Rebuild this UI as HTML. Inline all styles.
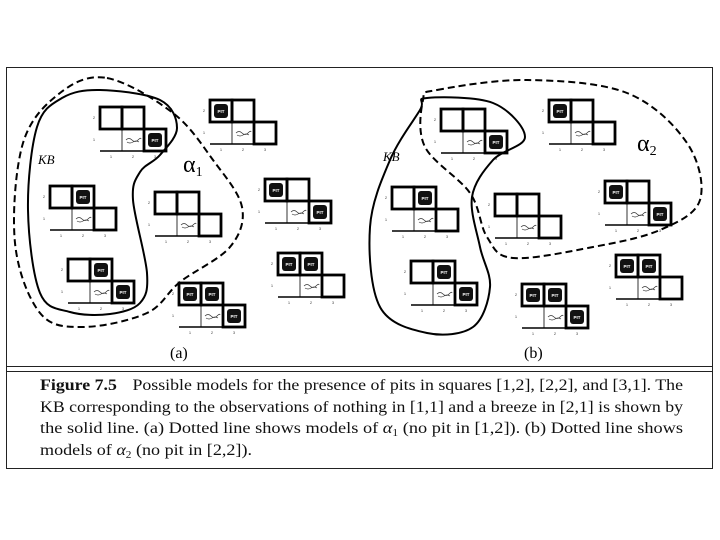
<!DOCTYPE html>
<html><head><meta charset="utf-8"><style>
body{margin:0;background:#fff;width:720px;height:540px;overflow:hidden}
svg{position:absolute;left:0;top:0}
</style></head><body>
<svg id="s" width="720" height="540" xmlns="http://www.w3.org/2000/svg">
<rect x="6.5" y="67.5" width="706" height="401" fill="none" stroke="#222" stroke-width="1"/>
<line x1="6" y1="366.5" x2="713" y2="366.5" stroke="#222" stroke-width="1"/>
<line x1="6" y1="371.5" x2="713" y2="371.5" stroke="#222" stroke-width="1"/>
<g id="g"></g>
<text x="38" y="164" font-family="Liberation Serif,serif" font-style="italic" font-size="13">KB</text>
<text x="183" y="172" font-family="Liberation Serif,serif" font-size="24">α<tspan font-size="14" dy="4">1</tspan></text>
<text x="383" y="161" font-family="Liberation Serif,serif" font-style="italic" font-size="13">KB</text>
<text x="637" y="151" font-family="Liberation Serif,serif" font-size="24">α<tspan font-size="14" dy="4">2</tspan></text>
<text x="170" y="358" font-family="Liberation Serif,serif" font-size="16">(a)</text>
<text x="524" y="358" font-family="Liberation Serif,serif" font-size="16">(b)</text>
<g font-family="Liberation Serif,serif" font-size="16" fill="#111">
<text x="40" y="390" textLength="643" lengthAdjust="spacingAndGlyphs"><tspan font-weight="bold">Figure 7.5</tspan><tspan dx="14">Possible models for the presence of pits in squares [1,2], [2,2], and [3,1]. The</tspan></text>
<text x="40" y="412" textLength="643" lengthAdjust="spacingAndGlyphs">KB corresponding to the observations of nothing in [1,1] and a breeze in [2,1] is shown by</text>
<text x="40" y="433" textLength="643" lengthAdjust="spacingAndGlyphs">the solid line. (a) Dotted line shows models of <tspan font-style="italic">α</tspan><tspan font-size="10" dy="3">1</tspan><tspan dy="-3"> (no pit in [1,2]). (b) Dotted line shows</tspan></text>
<text x="40" y="455" textLength="212" lengthAdjust="spacingAndGlyphs">models of <tspan font-style="italic">α</tspan><tspan font-size="10" dy="3">2</tspan><tspan dy="-3"> (no pit in [2,2]).</tspan></text>
</g>
</svg>
<script>
var g=document.getElementById('g'),h='';
var C=22;
function model(x,y,p12,p22,p31){
 var s='';
 s+='<line x1="'+x+'" y1="'+(y+2*C)+'" x2="'+(x+2*C)+'" y2="'+(y+2*C)+'" stroke="#000" stroke-width="1.5"/>';
 s+='<line x1="'+(x+C)+'" y1="'+(y+C)+'" x2="'+(x+C)+'" y2="'+(y+2*C)+'" stroke="#000" stroke-width="0.8"/>';
 [[x,y],[x+C,y],[x+2*C,y+C]].forEach(function(c){s+='<rect x="'+c[0]+'" y="'+c[1]+'" width="'+C+'" height="'+C+'" fill="none" stroke="#000" stroke-width="2.8"/>';});
 var bx=x+C+4,by=y+C+11;
 s+='<path d="M'+bx+' '+by+' q3 -3 6 0 t6 0 t3 -1 M'+(bx+1)+' '+(by+2)+' q3 2 6 0 t6 0" fill="none" stroke="#333" stroke-width="0.7"/>';
 function pit(cx,cy){s+='<rect x="'+(cx+4)+'" y="'+(cy+4)+'" width="'+(C-8)+'" height="'+(C-8)+'" rx="3" fill="#111"/><text x="'+(cx+C/2)+'" y="'+(cy+C/2+2)+'" font-size="4.5" fill="#fff" text-anchor="middle" font-family="Liberation Sans,sans-serif" font-weight="bold">PIT</text>';}
 if(p12)pit(x,y); if(p22)pit(x+C,y); if(p31)pit(x+2*C,y+C);
 var f=' font-size="4" fill="#444" font-family="Liberation Sans,sans-serif" text-anchor="middle"';
 s+='<text x="'+(x-6)+'" y="'+(y+C/2+1)+'"'+f+'>2</text><text x="'+(x-6)+'" y="'+(y+1.5*C+1)+'"'+f+'>1</text>';
 for(var i=0;i<3;i++)s+='<text x="'+(x+C/2+i*C)+'" y="'+(y+2*C+7)+'"'+f+'>'+(i+1)+'</text>';
 return s;
}
var M=[[100,107,0,0,1],[210,100,1,0,0],[50,186,0,1,0],[155,192,0,0,0],[265,179,1,0,1],[68,259,0,1,1],[179,283,1,1,1],[278,253,1,1,0],
[441,109,0,0,1],[549,100,1,0,0],[392,187,0,1,0],[495,194,0,0,0],[605,181,1,0,1],[411,261,0,1,1],[522,284,1,1,1],[616,255,1,1,0]];
M.forEach(function(m){h+=model(m[0],m[1],m[2],m[3],m[4]);});
function cr(P){var n=P.length,d='M'+P[0][0]+' '+P[0][1];
 for(var i=0;i<n;i++){var p0=P[(i-1+n)%n],p1=P[i],p2=P[(i+1)%n],p3=P[(i+2)%n];
 d+=' C'+(p1[0]+(p2[0]-p0[0])/6)+' '+(p1[1]+(p2[1]-p0[1])/6)+' '+(p2[0]-(p3[0]-p1[0])/6)+' '+(p2[1]-(p3[1]-p1[1])/6)+' '+p2[0]+' '+p2[1];}
 return d+'Z';}
var KBa=[[100,90],[160,100],[177,128],[160,155],[140,172],[133,200],[147,273],[140,303],[110,314],[70,312],[40,293],[28,210],[37,127],[62,98]];
var Da=[[107,78],[173,113],[213,160],[242,207],[230,247],[180,282],[147,313],[83,327],[40,313],[15,243],[23,143],[60,93]];
var KBb=[[427,98],[493,103],[525,137],[493,160],[472,197],[480,247],[490,287],[473,327],[427,333],[380,307],[370,227],[390,160],[420,110]];
var Db=[[437,90],[527,80],[627,93],[687,143],[700,200],[660,230],[593,247],[513,258],[487,237],[470,193],[425,147],[423,100]];
h+='<path d="'+cr(KBa)+'" fill="none" stroke="#000" stroke-width="2"/>';
h+='<path d="'+cr(Da)+'" fill="none" stroke="#000" stroke-width="2" stroke-dasharray="7,4"/>';
h+='<path d="'+cr(KBb)+'" fill="none" stroke="#000" stroke-width="2"/>';
h+='<path d="'+cr(Db)+'" fill="none" stroke="#000" stroke-width="2" stroke-dasharray="7,4"/>';
g.innerHTML=h;
</script>
</body></html>
